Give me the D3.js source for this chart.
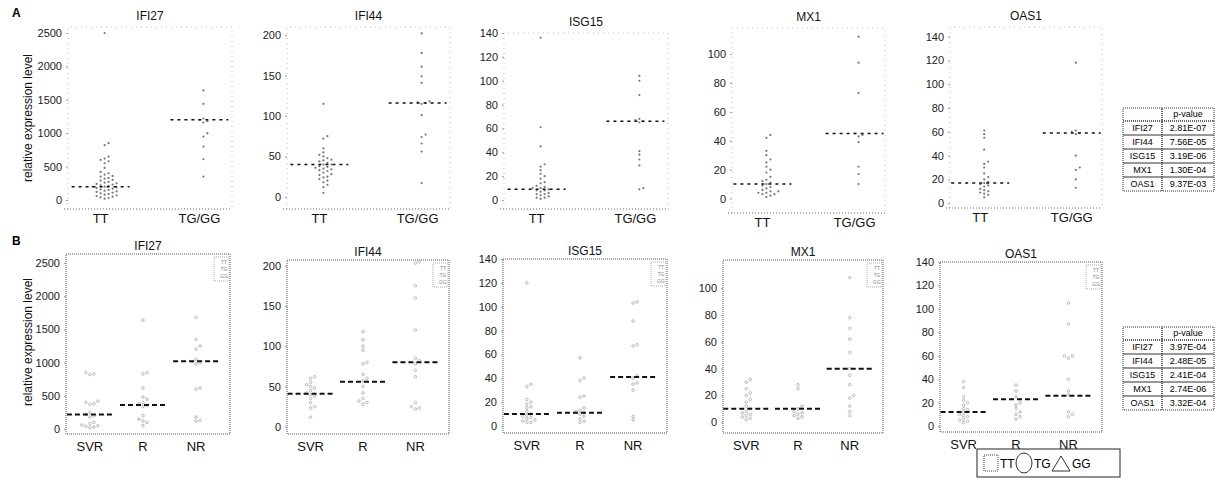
<!DOCTYPE html>
<meta charset="utf-8">
<body style="margin:0;background:#fff">
<script src="https://cdn.jsdelivr.net/npm/d3@7"></script>
<script>
var width = 1216,
    height = 485;

var genes = ["IFI27", "IFI44", "ISG15", "MX1", "OAS1"];
var groupsA = ["TT", "TG/GG"];
var groupsB = ["SVR", "R", "NR"];
var genotypes = ["TT", "TG", "GG"];

var ticksIFI27 = [0, 500, 1000, 1500, 2000, 2500];
var ticksIFI44 = [0, 50, 100, 150, 200];
var ticksISG15 = [0, 20, 40, 60, 80, 100, 120, 140];
var ticksMX1 = [0, 20, 40, 60, 80, 100];
var ticksOAS1 = [0, 20, 40, 60, 80, 100, 120, 140];

// panel A: expression by genotype (TT vs TG/GG)
var aIFI27 = [
  [2500, 850, 820, 650, 620, 600, 580, 550, 480, 420, 400, 380, 360, 350, 330, 320, 300, 290, 270, 260, 250, 240,
   230, 220, 210, 200, 200, 190, 180, 170, 160, 150, 140, 130, 120, 110, 100, 90, 80, 70, 60, 50, 40, 30, 20],
  [1640, 1440, 1220, 1200, 1180, 1160, 1000, 950, 800, 610, 350]
];
var aIFI44 = [
  [115, 75, 72, 60, 55, 52, 50, 48, 46, 45, 44, 42, 40, 40, 38, 37, 36, 35, 34, 33, 32, 30, 28, 27, 25, 24, 22, 20, 18, 15, 12, 5],
  [202, 178, 161, 149, 141, 118, 117, 116, 115, 101, 77, 74, 66, 56, 17]
];
var aISG15 = [
  [136, 61, 45, 30, 28, 25, 22, 20, 18, 15, 14, 12, 11, 10, 10, 9, 8, 8, 7, 6, 5, 5, 4, 3, 2, 2, 1],
  [104, 100, 88, 68, 67, 66, 65, 41, 38, 34, 29, 10, 9]
];
var aMX1 = [
  [44, 42, 33, 30, 27, 25, 22, 20, 18, 15, 13, 12, 11, 10, 9, 8, 7, 6, 5, 5, 4, 4, 3, 3, 2, 1],
  [112, 94, 73, 45, 44, 43, 39, 22, 17, 10]
];
var aOAS1 = [
  [61, 58, 55, 45, 35, 33, 30, 25, 22, 20, 18, 17, 16, 15, 14, 12, 11, 10, 9, 8, 7, 5],
  [118, 61, 60, 59, 58, 40, 30, 28, 20, 13]
];

// panel B: expression by treatment response (SVR, R, NR)
var bIFI27 = [
  [850, 830, 820, 420, 400, 380, 370, 250, 220, 200, 180, 100, 80, 60, 50, 40, 30, 20],
  [1640, 850, 830, 620, 480, 450, 400, 380, 360, 340, 200, 150, 120, 100, 50],
  [1680, 1350, 1250, 1200, 1050, 1020, 1000, 980, 620, 600, 180, 130, 120]
];
var bIFI44 = [
  [62, 60, 55, 52, 50, 48, 45, 42, 40, 38, 35, 30, 25, 23, 12],
  [118, 108, 100, 95, 80, 78, 65, 60, 57, 50, 42, 35, 32, 30, 28],
  [205, 203, 175, 160, 120, 85, 82, 78, 70, 62, 30, 25, 23, 22]
];
var bISG15 = [
  [120, 35, 33, 22, 20, 18, 16, 15, 12, 10, 9, 8, 7, 6, 5, 4, 3, 3],
  [57, 40, 38, 25, 24, 15, 13, 12, 11, 10, 8, 6, 4, 3],
  [104, 103, 88, 68, 67, 42, 40, 36, 35, 30, 8, 5]
];
var bMX1 = [
  [32, 30, 25, 22, 20, 17, 15, 12, 10, 8, 7, 6, 5, 4, 3, 2],
  [28, 25, 12, 10, 8, 7, 6, 5, 4, 3],
  [108, 78, 70, 62, 52, 40, 35, 28, 20, 18, 12, 8, 5]
];
var bOAS1 = [
  [38, 33, 25, 22, 20, 18, 15, 14, 12, 10, 9, 8, 6, 5, 4, 3],
  [35, 30, 25, 20, 18, 15, 12, 10, 8, 6],
  [105, 87, 60, 60, 58, 40, 30, 27, 12, 10, 8]
];

var medA = [[200, 1200], [40, 116], [9, 66], [10, 45], [17, 59]];
var medB = [[220, 360, 1020], [41, 56, 80], [10, 11, 41], [10, 10, 40], [12, 23, 26]];

var pA = ["2.81E-07", "7.56E-05", "3.19E-06", "1.30E-04", "9.37E-03"];
var pB = ["3.97E-04", "2.48E-05", "2.41E-04", "2.74E-06", "3.32E-04"];

var ticksAll = [ticksIFI27, ticksIFI44, ticksISG15, ticksMX1, ticksOAS1];
var dataA = [aIFI27, aIFI44, aISG15, aMX1, aOAS1];
var dataB = [bIFI27, bIFI44, bISG15, bMX1, bOAS1];

// frames of each little plot (pixel box + visible y range)
var frameA = [
  {x0: 68, x1: 232, y0: 27, y1: 209, lo: -135, hi: 2590},
  {x0: 287, x1: 450, y0: 27, y1: 209, lo: -15, hi: 210},
  {x0: 504, x1: 668, y0: 33, y1: 209, lo: -7.5, hi: 140},
  {x0: 732, x1: 885, y0: 28, y1: 213, lo: -10, hi: 118},
  {x0: 950, x1: 1102, y0: 27, y1: 208, lo: -4, hi: 148}
];
var frameB = [
  {x0: 66, x1: 230, y0: 254, y1: 434, lo: -75, hi: 2635},
  {x0: 287, x1: 449, y0: 260, y1: 434, lo: -9, hi: 207},
  {x0: 503, x1: 667, y0: 259, y1: 433, lo: -6, hi: 140},
  {x0: 723, x1: 883, y0: 260, y1: 433, lo: -8, hi: 121},
  {x0: 940, x1: 1102, y0: 262, y1: 432, lo: -5, hi: 140}
];

var font = "'Liberation Sans', Arial, sans-serif";

var svg = d3.select("body").append("svg")
    .attr("width", width)
    .attr("height", height)
    .style("font-family", font)
    .style("background", "#fff");

// simple deterministic swarm: put each point at the nearest free x offset
function swarm(values, y, cx, gx, gy) {
  var placed = [];
  values.slice().sort(d3.ascending).forEach(function(v) {
    var py = y(v);
    for (var k = 0; k < 40; k++) {
      var off = (k % 2 ? 1 : -1) * Math.ceil(k / 2) * gx;
      var ok = placed.every(function(p) {
        return Math.abs(p.x - (cx + off)) >= gx || Math.abs(p.y - py) >= gy;
      });
      if (ok) { placed.push({x: cx + off, y: py}); break; }
    }
  });
  return placed;
}

function panel(f, gi, groups, values, meds, isB) {
  var g = svg.append("g");
  var y = d3.scaleLinear().domain([f.lo, f.hi]).range([f.y1, f.y0]);
  var x = d3.scalePoint().domain(groups)
      .range(isB ? [f.x0, f.x1 - 10] : [f.x0, f.x1])
      .padding(isB ? 0.45 : 0.33);

  if (isB) {
    g.append("rect")
        .attr("x", f.x0).attr("y", f.y0)
        .attr("width", f.x1 - f.x0).attr("height", f.y1 - f.y0)
        .attr("fill", "none").attr("stroke", "#555")
        .attr("stroke-width", 1).attr("stroke-dasharray", "1,1");
  } else {
    g.append("path")
        .attr("d", "M" + f.x0 + "," + f.y1 + "V" + f.y0 + "H" + f.x1 + "V" + f.y1)
        .attr("fill", "none").attr("stroke", "#bbb")
        .attr("stroke-dasharray", "1,4");
    g.append("line")
        .attr("x1", f.x0 - 4).attr("x2", f.x1)
        .attr("y1", f.y1).attr("y2", f.y1)
        .attr("stroke", "#666").attr("stroke-dasharray", "1,2");
  }

  var ax = g.append("g")
      .attr("transform", "translate(" + f.x0 + ",0)")
      .call(d3.axisLeft(y).tickValues(ticksAll[gi]).tickFormat(d3.format("d")).tickSize(2).tickPadding(4));
  ax.select(".domain").remove();
  ax.selectAll("line").attr("stroke", "#999");
  ax.selectAll("text").attr("font-size", 11).attr("font-family", font).attr("fill", "#222");

  g.append("text")
      .attr("x", (f.x0 + f.x1) / 2).attr("y", f.y0 - (isB ? 4 : 7))
      .attr("text-anchor", "middle").attr("font-size", 12).attr("fill", "#111")
      .text(genes[gi]);

  g.selectAll(".xl").data(groups).enter().append("text")
      .attr("x", function(d) { return x(d); })
      .attr("y", f.y1 + (isB ? 17 : 14))
      .attr("text-anchor", "middle").attr("font-size", 13).attr("fill", "#111")
      .text(function(d) { return d; });

  groups.forEach(function(grp, i) {
    var pts = swarm(values[i], y, x(grp) + (isB ? 0 : 4), 4, 3.5);
    g.selectAll(null).data(pts).enter().append("circle")
        .attr("cx", function(d) { return d.x; })
        .attr("cy", function(d) { return d.y; })
        .attr("r", isB ? 1.3 : 1.1)
        .attr("fill", isB ? "none" : "#777")
        .attr("stroke", isB ? "#aaa" : "none")
        .attr("stroke-width", 0.8);
    var w = isB ? 46 : 58;
    g.append("line")
        .attr("x1", x(grp) - w / 2).attr("x2", x(grp) + w / 2)
        .attr("y1", y(meds[i])).attr("y2", y(meds[i]))
        .attr("stroke", "#111")
        .attr("stroke-width", isB ? 2 : 1.5)
        .attr("stroke-dasharray", isB ? "5,3" : "3,4");
  });

  if (isB) {
    // tiny genotype key in the corner
    var kx = f.x1 - 16, ky = f.y0 + 3;
    g.append("rect").attr("x", kx).attr("y", ky).attr("width", 15).attr("height", 24)
        .attr("fill", "none").attr("stroke", "#aaa").attr("stroke-dasharray", "1,1");
    g.selectAll(null).data(genotypes).enter().append("text")
        .attr("x", kx + 10).attr("y", function(d, i) { return ky + 7 + i * 7; })
        .attr("text-anchor", "middle").attr("font-size", 5).attr("fill", "#888")
        .text(function(d) { return d; });
  }
}

genes.forEach(function(gn, i) {
  panel(frameA[i], i, groupsA, dataA[i], medA[i], false);
  panel(frameB[i], i, groupsB, dataB[i], medB[i], true);
});

// panel letters and y labels
svg.append("text").attr("x", 12).attr("y", 17).attr("font-size", 12).attr("font-weight", "bold").text("A");
svg.append("text").attr("x", 12).attr("y", 245).attr("font-size", 12).attr("font-weight", "bold").text("B");
[118, 342].forEach(function(cy) {
  svg.append("text")
      .attr("transform", "translate(32," + cy + ")rotate(-90)")
      .attr("text-anchor", "middle").attr("font-size", 12).attr("fill", "#111")
      .text("relative expression level");
});

// p-value tables
function table(top, pvals) {
  var x0 = 1123, xs = 1162, x1 = 1214, hh = 13, rh = 14;
  var g = svg.append("g");
  var rows = [""].concat(genes);
  rows.forEach(function(r, i) {
    var yy = i === 0 ? top : top + hh + (i - 1) * rh;
    var h = i === 0 ? hh : rh;
    [[x0, xs], [xs, x1]].forEach(function(c) {
      g.append("rect").attr("x", c[0]).attr("y", yy).attr("width", c[1] - c[0]).attr("height", h)
          .attr("fill", "none").attr("stroke", "#333").attr("stroke-dasharray", "1,1");
    });
    g.append("text").attr("x", (x0 + xs) / 2).attr("y", yy + h - 4)
        .attr("text-anchor", "middle").attr("font-size", 9).text(r);
    g.append("text").attr("x", (xs + x1) / 2).attr("y", yy + h - 4)
        .attr("text-anchor", "middle").attr("font-size", 9)
        .text(i === 0 ? "p-value" : pvals[i - 1]);
  });
}
table(108, pA);
table(327, pB);

// genotype legend
var lg = svg.append("g");
lg.append("rect").attr("x", 977).attr("y", 449).attr("width", 143).attr("height", 28)
    .attr("fill", "none").attr("stroke", "#222");
lg.append("rect").attr("x", 984).attr("y", 455).attr("width", 14).attr("height", 16)
    .attr("fill", "none").attr("stroke", "#444").attr("stroke-dasharray", "1,1");
lg.append("text").attr("x", 1000).attr("y", 468).attr("font-size", 12).text("TT");
lg.append("ellipse").attr("cx", 1024).attr("cy", 463).attr("rx", 8).attr("ry", 10)
    .attr("fill", "none").attr("stroke", "#333");
lg.append("text").attr("x", 1034).attr("y", 468).attr("font-size", 12).text("TG");
lg.append("path").attr("d", d3.line()([[1052, 471], [1061, 456], [1070, 471], [1052, 471]]))
    .attr("fill", "none").attr("stroke", "#333");
lg.append("text").attr("x", 1072).attr("y", 468).attr("font-size", 12).text("GG");
</script>
